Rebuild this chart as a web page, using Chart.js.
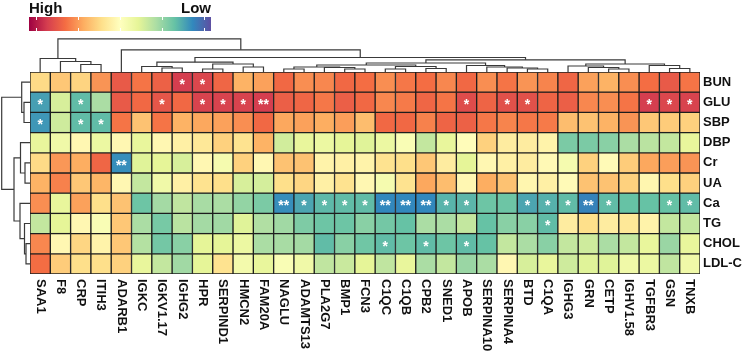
<!DOCTYPE html>
<html><head><meta charset="utf-8">
<script src="https://cdn.jsdelivr.net/npm/chart.js@4.4.1/dist/chart.umd.min.js"></script>
<style>html,body{margin:0;padding:0;background:#fff}</style>
</head><body>
<canvas id="c" width="745" height="355"></canvas>
<script>
const genes = ['SAA1','F8','CRP','ITIH3','ADARB1','IGKC','IGKV1.17','IGHG2','HPR','SERPIND1','HMCN2','FAM20A','NAGLU','ADAMTS13','PLA2G7','BMP1','FCN3','C1QC','C1QB','CPB2','SNED1','APOB','SERPINA10','SERPINA4','BTD','C1QA','IGHG3','GRN','CETP','IGHV1.58','TGFBR3','GSN','TNXB'];
const traits = ['BUN','GLU','SBP','DBP','Cr','UA','Ca','TG','CHOL','LDL-C'];

const vBUN  = [0.22,0.30,0.25,0.48,0.68,0.58,0.65,0.80,0.76, 0.63,0.38,0.44,0.62,0.50,0.52,0.62,0.60,0.50, 0.57,0.60,0.52,0.62,0.50,0.58,0.48,0.53,0.63, 0.44,0.38,0.50,0.60,0.68,0.58];
const vGLU  = [-0.72,-0.25,-0.62,-0.40,0.68,0.62,0.70,0.62,0.78, 0.78,0.78,0.80,0.66,0.63,0.57,0.66,0.62,0.52, 0.56,0.63,0.58,0.74,0.64,0.72,0.72,0.64,0.66, 0.52,0.50,0.58,0.80,0.76,0.78];
const vSBP  = [-0.75,-0.28,-0.62,-0.62,0.58,0.32,0.58,0.38,0.42, 0.44,0.50,0.62,0.42,0.44,0.40,0.45,0.34,0.62, 0.62,0.54,0.64,0.65,0.57,0.53,0.57,0.56,0.34, 0.32,0.38,0.48,0.30,0.28,0.26];
const vDBP  = [-0.18,-0.12,0.05,-0.15,0.05,-0.18,0.05,0.10,0.15, 0.26,0.18,0.38,-0.27,-0.18,-0.15,-0.20,-0.22,-0.15, -0.05,-0.32,-0.18,0.02,0.26,0.12,0.12,0.08,-0.54, -0.54,-0.50,-0.40,-0.35,-0.32,-0.18];
const vCr   = [0.22,0.47,0.40,0.63,-0.78,-0.22,-0.20,-0.25,0.05, -0.08,0.26,0.05,0.32,0.32,0.08,0.10,0.08,0.18, 0.20,0.30,0.12,-0.20,0.05,0.10,0.12,0.04,-0.08, 0.26,0.03,0.28,0.42,0.45,0.48];
const vUA   = [0.38,0.54,0.30,0.37,0.05,-0.32,-0.12,0.10,0.18, 0.20,-0.25,-0.26,0.20,0.24,0.10,0.18,0.05,-0.08, 0.18,0.42,0.34,0.05,0.40,0.32,0.06,0.10,0.03, 0.32,0.32,0.26,0.06,0.20,0.26];
const vCa   = [0.50,-0.18,0.44,0.20,0.32,-0.58,-0.42,-0.33,-0.41, -0.40,-0.47,-0.54,-0.78,-0.70,-0.63,-0.62,-0.62,-0.80, -0.80,-0.80,-0.65,-0.64,-0.58,-0.58,-0.70,-0.66,-0.62, -0.82,-0.62,-0.60,-0.60,-0.60,-0.62];
const vTG   = [-0.32,-0.20,0.05,-0.05,0.30,-0.40,-0.55,-0.35,-0.42, -0.43,-0.22,-0.38,-0.43,-0.53,-0.58,-0.58,-0.50,-0.56, -0.60,-0.40,-0.40,-0.32,-0.60,-0.50,-0.50,-0.62,0.12, 0.20,0.12,0.15,0.08,-0.32,-0.32];
const vCHOL = [0.52,0.05,0.24,0.08,0.30,-0.37,-0.56,-0.50,-0.20, -0.20,-0.15,-0.40,-0.41,-0.42,-0.62,-0.50,-0.57,-0.62, -0.58,-0.62,-0.58,-0.62,-0.60,-0.32,-0.40,-0.50,-0.32, -0.28,-0.40,-0.32,-0.18,-0.45,-0.18];
const vLDL  = [0.60,0.28,0.20,0.20,0.26,-0.18,-0.32,-0.43,-0.20, 0.18,-0.10,-0.18,-0.05,-0.12,-0.33,-0.30,-0.20,-0.33, -0.18,-0.40,-0.32,-0.45,-0.40,0.05,-0.25,-0.18,-0.28, -0.22,-0.22,-0.12,-0.15,-0.33,-0.12];
const values = [vBUN, vGLU, vSBP, vDBP, vCr, vUA, vCa, vTG, vCHOL, vLDL];

// significance marks: [row, column, mark]
const marks = [
  [0,7,'*'],[0,8,'*'],
  [1,0,'*'],[1,2,'*'],[1,6,'*'],[1,8,'*'],[1,9,'*'],[1,10,'*'],[1,11,'**'],[1,21,'*'],[1,23,'*'],[1,24,'*'],[1,30,'*'],[1,31,'*'],[1,32,'*'],
  [2,0,'*'],[2,2,'*'],[2,3,'*'],
  [4,4,'**'],
  [6,12,'**'],[6,13,'*'],[6,14,'*'],[6,15,'*'],[6,16,'*'],[6,17,'**'],[6,18,'**'],[6,19,'**'],[6,20,'*'],[6,21,'*'],[6,24,'*'],[6,25,'*'],[6,26,'*'],[6,27,'**'],[6,28,'*'],[6,31,'*'],[6,32,'*'],
  [7,25,'*'],
  [8,17,'*'],[8,19,'*'],[8,21,'*']
];

// dendrograms: [mergeHeight, left, right]; leaves are indices
const colTree = [33.2,
  [13.5, 0, [10.5, 1, [7.5, 2, 3]]],
  [22.2, 4,
    [14.5,
      [9.8, [5.5, 5, [4, 6, 7]], [8, [3, 8, 9], [5, 10, 11]]],
      [12.2,
        [9, [7, [5, [3, 12, 13], [4.5, 14, [3, 15, 16]]], [5.5, [3, 17, 18], [3.5, 19, 20]]],
            [6.5, 21, [5, 22, [4, 23, [3, 24, 25]]]]],
        [8, [6, 26, [4.5, 27, [3, 28, 29]]], [6.5, 30, [3.5, 31, 32]]]
      ]
    ]
  ]
];
const rowTree = [28.3,
  [8.3, 0, [6, 1, 2]],
  [16, [9.5, 3, [5, 4, 5]], [10, 6, [5.5, 7, [4, 8, 9]]]]
];

const spectral = ['#9e0142','#d53e4f','#f46d43','#fdae61','#fee08b','#ffffbf','#e6f598','#abdda4','#66c2a5','#3288bd','#5e4fa2'];
function hex(h){return [parseInt(h.slice(1,3),16),parseInt(h.slice(3,5),16),parseInt(h.slice(5,7),16)];}
function colorFor(v){
  let t = (1 - Math.max(-1, Math.min(1, v))) / 2 * (spectral.length - 1);
  let i = Math.min(spectral.length - 2, Math.floor(t)); let f = t - i;
  const a = hex(spectral[i]), b = hex(spectral[i+1]);
  return 'rgb(' + a.map((c,k)=>Math.round(c + (b[k]-c)*f)).join(',') + ')';
}

const FONT = '"Liberation Sans", Arial, sans-serif';

const decor = {
  id: 'decor',
  afterDatasetsDraw(chart){
    const {ctx, chartArea, scales:{x, y}} = chart;
    ctx.save();
    // significance marks
    ctx.fillStyle = '#ffffff';
    ctx.font = 'bold 14px ' + FONT;
    ctx.textAlign = 'center'; ctx.textBaseline = 'middle';
    marks.forEach(([r,c,m]) => ctx.fillText(m, x.getPixelForValue(c), y.getPixelForValue(r+0.5) + 3));
    // column labels (rotated, reading downward)
    ctx.fillStyle = '#111';
    ctx.font = 'bold 13px ' + FONT;
    ctx.textAlign = 'left'; ctx.textBaseline = 'middle';
    genes.forEach((g,i) => {
      ctx.save();
      ctx.translate(x.getPixelForValue(i), chartArea.bottom + 5);
      ctx.rotate(Math.PI/2);
      ctx.fillText(g, 0, 0);
      ctx.restore();
    });
    // dendrograms
    ctx.strokeStyle = '#3a3a3a'; ctx.lineWidth = 1.2;
    const top = chartArea.top;
    function drawCol(n){
      if (typeof n === 'number') return {p: x.getPixelForValue(n), h: 0};
      const a = drawCol(n[1]), b = drawCol(n[2]);
      const yy = top - n[0];
      ctx.beginPath();
      ctx.moveTo(a.p, top - a.h); ctx.lineTo(a.p, yy); ctx.lineTo(b.p, yy); ctx.lineTo(b.p, top - b.h);
      ctx.stroke();
      return {p: (a.p + b.p)/2, h: n[0]};
    }
    drawCol(colTree);
    const left = chartArea.left;
    function drawRow(n){
      if (typeof n === 'number') return {p: y.getPixelForValue(n + 0.5), h: 0};
      const a = drawRow(n[1]), b = drawRow(n[2]);
      const xx = left - n[0];
      ctx.beginPath();
      ctx.moveTo(left - a.h, a.p); ctx.lineTo(xx, a.p); ctx.lineTo(xx, b.p); ctx.lineTo(left - b.h, b.p);
      ctx.stroke();
      return {p: (a.p + b.p)/2, h: n[0]};
    }
    drawRow(rowTree);
    // colour key
    const kx0 = 29, kx1 = 211, ky0 = 17, ky1 = 31;
    const grad = ctx.createLinearGradient(kx0, 0, kx1, 0);
    spectral.forEach((c,i) => grad.addColorStop(i/(spectral.length-1), c));
    ctx.fillStyle = grad;
    ctx.fillRect(kx0, ky0, kx1 - kx0, ky1 - ky0);
    ctx.strokeStyle = '#ffffff'; ctx.lineWidth = 1;
    [0.038, 0.269, 0.5, 0.731, 0.962].forEach(f => {
      const px = Math.round(kx0 + f*(kx1-kx0)) + 0.5;
      ctx.beginPath(); ctx.moveTo(px, ky0); ctx.lineTo(px, ky0 + 3); ctx.moveTo(px, ky1 - 3); ctx.lineTo(px, ky1); ctx.stroke();
    });
    ctx.fillStyle = '#111';
    ctx.font = 'bold 15px ' + FONT;
    ctx.textBaseline = 'alphabetic';
    ctx.textAlign = 'left'; ctx.fillText('High', kx0, 13);
    ctx.textAlign = 'right'; ctx.fillText('Low', kx1, 13);
    ctx.restore();
  }
};

new Chart(document.getElementById('c'), {
  type: 'bar',
  data: {
    labels: genes,
    datasets: traits.map((t, r) => ({
      label: t,
      data: genes.map(() => [r, r + 1]),
      backgroundColor: values[r].map(colorFor),
      borderColor: '#1e1e1e',
      borderWidth: 1,
      borderSkipped: false,
      grouped: false,
      barPercentage: 1,
      categoryPercentage: 1
    }))
  },
  options: {
    responsive: false,
    animation: false,
    layout: {padding: {left: 30, top: 72, bottom: 81, right: 0}},
    plugins: {legend: {display: false}, tooltip: {enabled: false}},
    scales: {
      x: {display: false, offset: true},
      y: {
        position: 'right', min: 0, max: 10, reverse: true,
        grid: {display: false, drawTicks: false},
        border: {display: false},
        afterBuildTicks: a => { a.ticks = traits.map((t, i) => ({value: i + 0.5})); },
        afterFit: a => { a.width = 45; },
        ticks: {
          autoSkip: false, padding: 3, color: '#111',
          font: {family: FONT, weight: 'bold', size: 13},
          callback: (v, i) => traits[i]
        }
      }
    }
  },
  plugins: [decor]
});
</script>
</body></html>
